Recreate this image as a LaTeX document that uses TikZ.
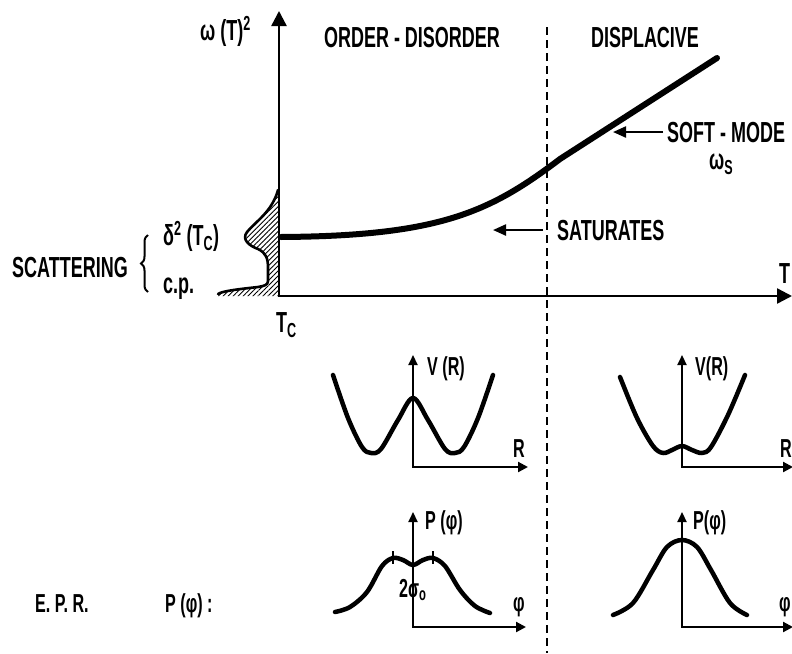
\documentclass[tikz,border=0pt]{standalone}
\usepackage{fontspec}
\setmainfont{Liberation Sans}[FakeStretch=0.62]
\usetikzlibrary{arrows.meta,patterns.meta,decorations.pathreplacing}
\begin{document}
\begin{tikzpicture}[x=1pt,y=-1pt,
  lbl/.style={font=\fontsize{29}{32}\selectfont\bfseries,inner sep=0pt},
  slbl/.style={font=\fontsize{26}{28}\selectfont\bfseries,inner sep=0pt},
  mainaxis/.style={line width=2.4pt,{Triangle[length=15pt,width=15pt]}-{Triangle[length=15pt,width=15pt]}},
  smallaxis/.style={line width=2.2pt,{Triangle[length=10pt,width=9pt]}-{Triangle[length=10pt,width=10pt]}},
  thickcurve/.style={line width=6pt,line cap=round,line join=round},
  wellcurve/.style={line width=4.5pt,line cap=round,line join=round},
  pointer/.style={line width=2.2pt,-{Triangle[length=13pt,width=11pt]}},
  divider/.style={line width=1.8pt,dash pattern=on 8pt off 5pt},
]
\useasboundingbox (0,0) rectangle (792,653);

% scattering hatched profile
\path[pattern={Lines[angle=45,distance=3.5pt,line width=0.9pt]}]
  (278,190) .. controls (272,212) and (255,222) .. (247,232)
  .. controls (241,240) and (250,246) .. (258,249)
  .. controls (266,253) and (268,258) .. (268,268) -- (268,281)
  .. controls (268,285) and (264,286) .. (258,287)
  .. controls (240,289) and (222,291) .. (218,294) -- (218,296) -- (279,296) -- cycle;
\draw[line width=2.6pt,line join=round,line cap=round]
  (278,190) .. controls (272,212) and (255,222) .. (247,232)
  .. controls (241,240) and (250,246) .. (258,249)
  .. controls (266,253) and (268,258) .. (268,268) -- (268,281)
  .. controls (268,285) and (264,286) .. (258,287)
  .. controls (240,289) and (222,291) .. (218,294);

% main axes
\coordinate (ytop) at (279,11);
\coordinate (origin) at (279,296);
\coordinate (xend) at (792,296);
\draw[mainaxis] (ytop) -- (origin) -- (xend);

% divider
\coordinate (divtop) at (547,27);
\coordinate (divbot) at (547,653);
\draw[divider] (divtop) -- (divbot);

% soft mode curve
\coordinate (c0) at (281,237);
\coordinate (c1) at (560,159);
\coordinate (c2) at (717,58);
\draw[thickcurve] (c0) .. controls (440,236) and (490,212) .. (c1) -- (c2);

% labels top
\node[lbl,anchor=base west] (wT) at (200,40) {ω (T)\textsuperscript{2}};
\node[lbl,anchor=base] (od) at (412,47) {ORDER - DISORDER};
\node[lbl,anchor=base] (disp) at (645,47) {DISPLACIVE};
\node[lbl,anchor=base west] (soft) at (667,142) {SOFT - MODE};
\node[lbl,anchor=base west] (ws) at (709,169) {ω\textsubscript{S}};
\node[lbl,anchor=base west] (sat) at (557,240) {SATURATES};
\node[lbl,anchor=base west] (Tlab) at (779,283) {T};
\node[lbl,anchor=base west] (Tc) at (276,332) {T\textsubscript{C}};
\node[lbl,anchor=base west] (scat) at (12,277) {SCATTERING};
\node[lbl,anchor=base west] (delta) at (163,245) {δ\textsuperscript{2} (T\textsubscript{C})};
\node[lbl,anchor=base west] (cp) at (163,293) {c.p.};
\draw[line width=2pt,decorate,decoration={brace,amplitude=7pt}] (148,292) -- (148,235);

\coordinate (softtip) at ([xshift=-54pt]soft.west);
\draw[pointer] ([xshift=-4pt]soft.west) -- (softtip);
\coordinate (sattip) at ([xshift=-64pt]sat.west);
\draw[pointer] ([xshift=-14pt]sat.west) -- (sattip);

% V(R) left
\coordinate (vlo) at (413,467);
\coordinate (vlt) at (413,355);
\coordinate (vlr) at (528,467);
\draw[smallaxis] (vlt) -- (vlo) -- (vlr);
\draw[wellcurve] plot[smooth,tension=0.55] coordinates {(333,375) (348,418) (362,447) (371,453) (381,449) (398,420) (413,398) (428,420) (445,449) (455,453) (464,447) (478,418) (493,375)};
\node[slbl,anchor=base west] (vl) at (427,375) {V (R)};
\node[slbl,anchor=base west] (rl) at (513,457) {R};

% V(R) right
\coordinate (vro) at (682,467);
\coordinate (vrt) at (682,355);
\coordinate (vrr) at (793,467);
\draw[smallaxis] (vrt) -- (vro) -- (vrr);
\draw[wellcurve] plot[smooth,tension=0.55] coordinates {(620,377) (637,418) (653,446) (663,453) (672,450) (682,446) (692,450) (702,453) (711,447) (728,415) (745,375)};
\node[slbl,anchor=base west] (vr) at (695,375) {V(R)};
\node[slbl,anchor=base west] (rr) at (780,457) {R};

% P(phi) left
\coordinate (plo) at (413,627);
\coordinate (plt) at (413,512);
\coordinate (plr) at (526,627);
\draw[smallaxis] (plt) -- (plo) -- (plr);
\draw[wellcurve] plot[smooth,tension=0.55] coordinates {(335,612) (350,607) (367,592) (382,566) (393,558) (403,560) (413,565) (423,560) (433,558) (445,566) (460,590) (475,606) (490,613)};
\draw[line width=1.2pt] (393,551) -- (393,564);
\draw[line width=1.2pt] (433,551) -- (433,564);
\node[slbl,anchor=base west] (pl) at (425,529) {P (φ)};
\node[slbl,anchor=base west] (phl) at (513,611) {φ};
\node[slbl,anchor=base west] (sig) at (399,597) {2σ\textsubscript{o}};

% P(phi) right
\coordinate (pro) at (682,627);
\coordinate (prt) at (682,512);
\coordinate (prr) at (793,627);
\draw[smallaxis] (prt) -- (pro) -- (prr);
\draw[wellcurve] plot[smooth,tension=0.55] coordinates {(613,615) (633,603) (653,570) (667,547) (682,540) (697,547) (711,570) (730,603) (747,615)};
\node[slbl,anchor=base west] (pr) at (693,529) {P(φ)};
\node[slbl,anchor=base west] (phr) at (779,611) {φ};

% EPR
\node[slbl,anchor=base west] (epr) at (35,612) {E. P. R.};
\node[slbl,anchor=base west] (pphi) at (165,612) {P (φ) :};
\end{tikzpicture}
\end{document}
